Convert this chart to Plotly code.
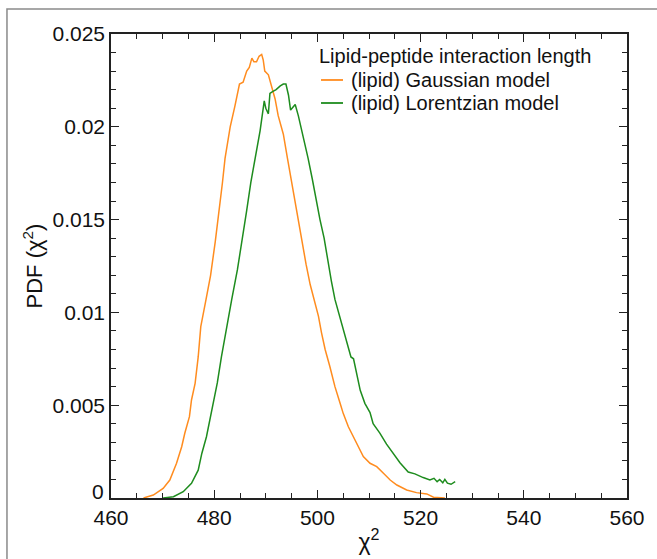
import plotly.graph_objects as go

# Gaussian model (orange)
gauss_x = [466.3, 468.2, 470.1, 471.4, 472.7, 473.7, 474.3, 475.2, 475.6, 476.3, 476.9, 477.4,
           478.4, 479.3, 480.2, 481.0, 481.6, 482.1, 483.1, 484.0, 484.9, 485.6, 486.3, 486.8,
           487.3, 487.7, 488.2, 488.7, 489.2, 489.5, 489.8, 490.5, 491.1, 491.8, 492.4, 493.4,
           494.2, 495.0, 496.0, 496.9, 497.8, 498.6, 499.3, 500.2, 500.8, 501.5, 502.4, 503.4,
           504.4, 505.0, 506.0, 507.0, 507.9, 508.9, 510.2, 511.5, 512.8, 514.1, 515.4, 517.3,
           519.2, 521.2, 522.5, 524.7]
gauss_y = [0.0, 0.00016, 0.00052, 0.00097, 0.00187, 0.00276, 0.00349, 0.00438, 0.00528, 0.00618,
           0.0076, 0.00923, 0.01067, 0.0120, 0.0138, 0.0155, 0.0170, 0.0183, 0.0200, 0.0211,
           0.0223, 0.0224, 0.0230, 0.0232, 0.0237, 0.0235, 0.0235, 0.0238, 0.0239, 0.0236,
           0.0230, 0.0228, 0.0222, 0.0215, 0.0206, 0.0196, 0.0183, 0.0170, 0.0155, 0.0140,
           0.0126, 0.0115, 0.0107, 0.0098, 0.0089, 0.0080, 0.0071, 0.0060, 0.0051, 0.00456,
           0.00384, 0.0033, 0.00276, 0.00223, 0.00187, 0.00169, 0.00133, 0.00097, 0.0007,
           0.00043, 0.00029, 0.00022, 0.00004, 0.0]

# Lorentzian model (green)
lorentz_x = [470.1, 472.1, 474.0, 475.6, 476.9, 477.6, 478.5, 479.5, 480.6, 481.4, 482.4, 483.4,
             484.5, 485.5, 486.3, 487.1, 487.9, 488.9, 489.7, 490.0, 490.5, 490.8, 491.3, 492.0,
             492.8, 493.4, 493.9, 494.4, 494.8, 495.7, 496.3, 497.0, 497.6, 498.2, 499.0, 499.8,
             500.5, 501.3, 502.0, 502.7, 503.4, 504.1, 504.7, 505.3, 506.0, 506.5, 507.0, 507.6,
             508.3, 509.2, 510.2, 510.8, 512.1, 513.4, 514.7, 516.0, 517.6, 518.9, 520.5, 521.8,
             522.6, 523.2, 523.7, 524.3, 524.7, 525.2, 525.9, 526.7]
lorentz_y = [0.0, 0.00007, 0.00034, 0.00079, 0.0015, 0.0024, 0.0033, 0.0047, 0.0062, 0.0076,
             0.0092, 0.0107, 0.0123, 0.0140, 0.0155, 0.0170, 0.0183, 0.0198, 0.0214, 0.0210,
             0.0207, 0.0218, 0.0219, 0.0220, 0.0222, 0.0223, 0.0223, 0.0217, 0.0209, 0.0212,
             0.0206, 0.0198, 0.0190, 0.0183, 0.0172, 0.0160, 0.0150, 0.0140, 0.0128, 0.0117,
             0.0107, 0.0100, 0.0094, 0.0089, 0.0082, 0.0076, 0.0075, 0.0067, 0.0058, 0.0051,
             0.0046, 0.0040, 0.0035, 0.0029, 0.0024, 0.0019, 0.0014, 0.0013, 0.0011, 0.00097,
             0.00106, 0.00088, 0.0010, 0.00082, 0.0010, 0.0008, 0.00074, 0.00088]

series_names = ["(lipid) Gaussian model", "(lipid) Lorentzian model"]
series_colors = ["#ff8c1f", "#1e8c1e"]
legend_title = "Lipid-peptide interaction length"

x_ticks = [460, 480, 500, 520, 540, 560]
y_ticks = [0, 0.005, 0.01, 0.015, 0.02, 0.025]
y_tick_labels = ["", "0.005", "0.01", "0.015", "0.02", "0.025"]
y_zero_label = "0"

FONT = "Liberation Sans, Arial, sans-serif"
TXT = "#111"

fig = go.Figure()
for xs, ys, nm, col in [(gauss_x, gauss_y, series_names[0], series_colors[0]),
                        (lorentz_x, lorentz_y, series_names[1], series_colors[1])]:
    fig.add_trace(go.Scatter(x=xs, y=ys, mode="lines", name=nm,
                             line=dict(color=col, width=1.5), showlegend=False))

axis_common = dict(
    showline=True, linecolor="#222", linewidth=1.5, mirror="allticks",
    ticks="inside", ticklen=8, tickwidth=1.3, tickcolor="#222",
    showgrid=False, zeroline=False, automargin=False,
    tickfont=dict(family=FONT, size=21, color=TXT),
)

fig.update_xaxes(range=[460, 560], tickvals=x_ticks,
                 minor=dict(dtick=5, ticklen=5, tickwidth=1.2, tickcolor="#222", ticks="inside", showgrid=False),
                 title=dict(text="χ<sup>2</sup>", font=dict(family=FONT, size=23, color=TXT), standoff=6),
                 **axis_common)
fig.update_yaxes(range=[0, 0.025], tickvals=y_ticks, ticktext=y_tick_labels,
                 minor=dict(dtick=0.001, ticklen=5, tickwidth=1.2, tickcolor="#222", ticks="inside", showgrid=False),
                 title=dict(text="PDF (χ<sup>2</sup>)", font=dict(family=FONT, size=22, color=TXT), standoff=4),
                 **axis_common)

# "0" label of the y axis, lifted above the corner like in the source figure
fig.add_annotation(text=y_zero_label, xref="paper", yref="paper", x=-0.0097, y=0.014,
                   xanchor="right", yanchor="middle", showarrow=False,
                   font=dict(family=FONT, size=21, color=TXT))

# manual legend (title, line samples, labels)
fig.add_annotation(text=legend_title, xref="paper", yref="paper", x=0.399, y=0.9526,
                   xanchor="left", yanchor="middle", showarrow=False,
                   font=dict(family=FONT, size=20, color=TXT))
for i, (nm, col) in enumerate(zip(series_names, series_colors)):
    yy = 0.9009 - i * 0.0496
    fig.add_shape(type="line", xref="paper", yref="paper", x0=0.407, x1=0.4496, y0=yy, y1=yy,
                  line=dict(color=col, width=1.8))
    fig.add_annotation(text=nm, xref="paper", yref="paper", x=0.4612, y=yy,
                       xanchor="left", yanchor="middle", showarrow=False,
                       font=dict(family=FONT, size=20, color=TXT))

# outer frame (top and left edges visible, cut off at right and bottom)
fig.add_shape(type="path", xref="paper", yref="paper",
              path="M -0.2016,-0.3 L -0.2016,1.0539 L 1.2,1.0539",
              line=dict(color="#8a8a8a", width=1.5))

fig.update_layout(
    width=657, height=559,
    margin=dict(l=111, r=30, t=34, b=61),
    paper_bgcolor="white", plot_bgcolor="white",
    showlegend=False,
)

fig.write_html("out.html", config={"displayModeBar": False},
               post_script="document.body.style.margin='0';document.body.style.overflow='hidden';")
